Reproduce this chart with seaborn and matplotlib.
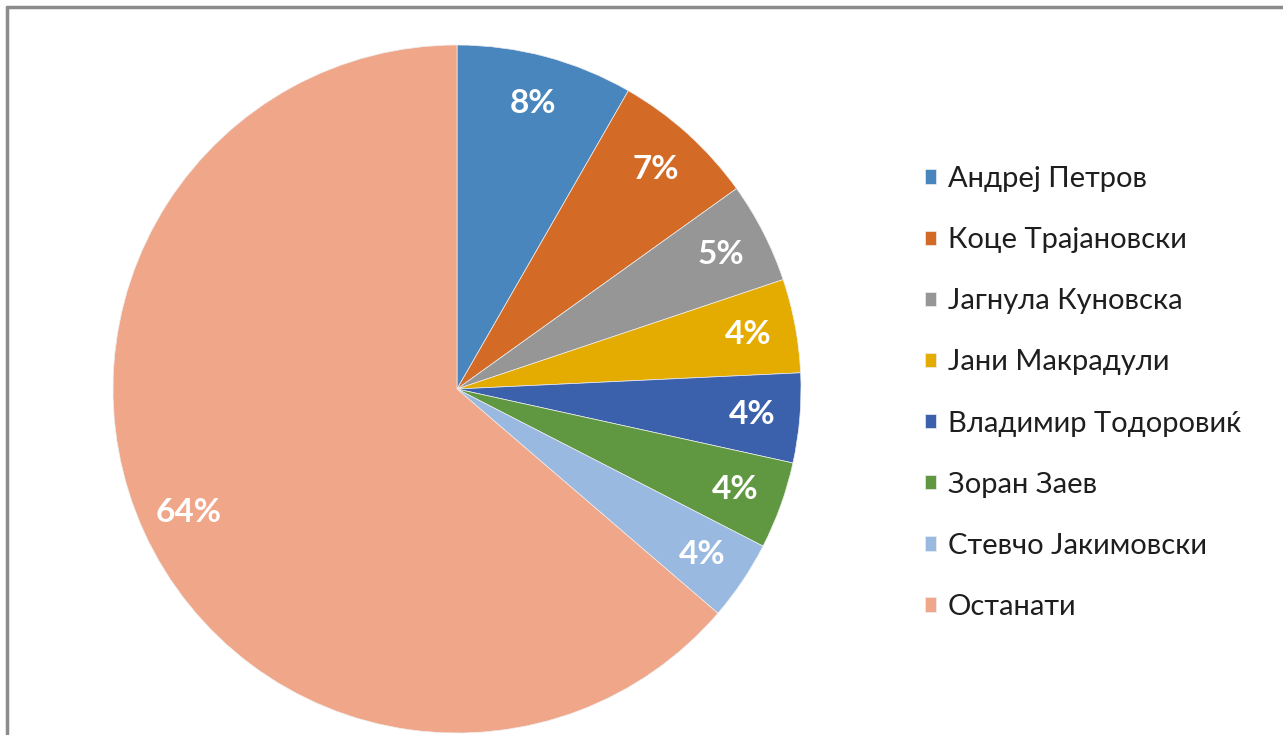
import seaborn as sns
import matplotlib.pyplot as plt
from matplotlib.lines import Line2D

names = ["Андреј Петров", "Коце Трајановски", "Јагнула Куновска", "Јани Макрадули",
         "Владимир Тодоровиќ", "Зоран Заев", "Стевчо Јакимовски", "Останати"]
shares = [8.3, 6.8, 4.75, 4.4, 4.2, 4.1, 3.75, 63.7]
colors = ["#4A86BE", "#D36B27", "#969696", "#E4AB00", "#3B61AC", "#5F9841", "#99B9E0", "#F0A689"]

sns.set_theme(style="white")
plt.rcParams['font.family'] = ['Lato', 'Open Sans', 'DejaVu Sans']

fig = plt.figure(figsize=(12.83, 7.35), dpi=100)
ax = fig.add_axes([113/1283, 2/735, 688/1283, 688/735])

wedges, texts, autotexts = ax.pie(
    shares, colors=sns.color_palette(colors), startangle=90, counterclock=False,
    autopct=lambda p: "{:.0f}%".format(p), pctdistance=0.86,
    wedgeprops=dict(edgecolor="#eeeeee", linewidth=0.5),
    textprops=dict(color="white", fontsize=24, fontweight="bold"))
ax.set_xlim(-1, 1)
ax.set_ylim(-1, 1)
ax.set_aspect("equal")
ax.axis("off")

fig.legend(wedges, names, loc="upper left", bbox_to_anchor=(925/1283, 1 - 166/735),
           frameon=False, fontsize=21, handlelength=0.38, handleheight=0.38,
           handletextpad=0.41, labelspacing=1.205, borderpad=0, borderaxespad=0,
           labelcolor="#1e1e1e")

# grey frame on top and left
fig.add_artist(Line2D([7/1283, 7/1283], [0, 1 - 7/735], color="#8c8c8c", lw=2.5))
fig.add_artist(Line2D([7/1283, 1], [1 - 7/735, 1 - 7/735], color="#8c8c8c", lw=2.5))

fig.savefig("out.png", dpi=100)
